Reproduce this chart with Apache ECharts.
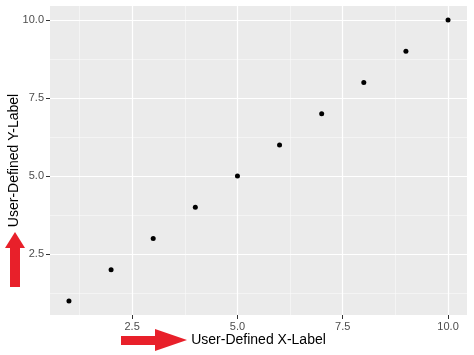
<!DOCTYPE html>
<html>
<head>
<meta charset="utf-8">
<script src="https://cdn.jsdelivr.net/npm/echarts@6/dist/echarts.min.js"></script>
<style>html,body{margin:0;padding:0;background:#fff}#c{width:474px;height:355px}</style>
</head>
<body>
<div id="c"></div>
<script>
const xValues = [1, 2, 3, 4, 5, 6, 7, 8, 9, 10];
const yValues = [1, 2, 3, 4, 5, 6, 7, 8, 9, 10];
const majorTicks = [2.5, 5.0, 7.5, 10.0];
const minorTicks = [1.25, 3.75, 6.25, 8.75];
const xTitle = 'User-Defined X-Label';
const yTitle = 'User-Defined Y-Label';

const chart = echarts.init(document.getElementById('c'), null, {renderer: 'canvas'});
const font = 'Liberation Sans, Arial, sans-serif';
const axMin = 0.55, axMax = 10.45;

function majorAxis(isX) {
  return {
    type: 'value', min: axMin, max: axMax,
    name: isX ? xTitle : yTitle,
    nameLocation: 'middle',
    nameGap: isX ? 18 : 29,
    nameMoveOverlap: false,
    nameTextStyle: {color: '#000', fontSize: 14, fontFamily: font},
    axisLine: {show: false},
    axisTick: {show: true, length: 4, lineStyle: {color: '#333', width: 1}, customValues: majorTicks},
    axisLabel: {show: true, color: '#4D4D4D', fontSize: 11, fontFamily: font, margin: 6,
      customValues: majorTicks, formatter: v => v.toFixed(1)},
    splitLine: {show: true, lineStyle: {color: '#fff', width: 1.2}},
    z: 2
  };
}
function minorAxis() {
  return {
    type: 'value', min: axMin, max: axMax,
    axisLine: {show: false},
    axisTick: {show: false, customValues: minorTicks},
    axisLabel: {show: false, customValues: minorTicks},
    splitLine: {show: true, lineStyle: {color: '#fafafa', width: 0.6}},
    z: 1
  };
}

chart.setOption({
  animation: false,
  backgroundColor: '#fff',
  grid: {left: 50, top: 6, width: 417, height: 309, show: true, backgroundColor: '#EBEBEB', borderWidth: 0,
         containLabel: false, outerBoundsMode: 'none'},
  xAxis: [majorAxis(true), minorAxis()],
  yAxis: [majorAxis(false), minorAxis()],
  graphic: [
    {type: 'polygon', shape: {points: [[10,287],[20,287],[20,248],[25,248],[15,232],[5,248],[10,248]]},
     style: {fill: '#E8202A'}},
    {type: 'polygon', shape: {points: [[121,336],[155,336],[155,329],[187,340],[155,351],[155,345],[121,345]]},
     style: {fill: '#E8202A'}}
  ],
  series: [{
    type: 'scatter',
    xAxisIndex: 0, yAxisIndex: 0,
    data: xValues.map((x, i) => [x, yValues[i]]),
    symbol: 'circle', symbolSize: 5,
    itemStyle: {color: '#000', opacity: 1},
    z: 5
  }]
});
</script>
</body>
</html>
